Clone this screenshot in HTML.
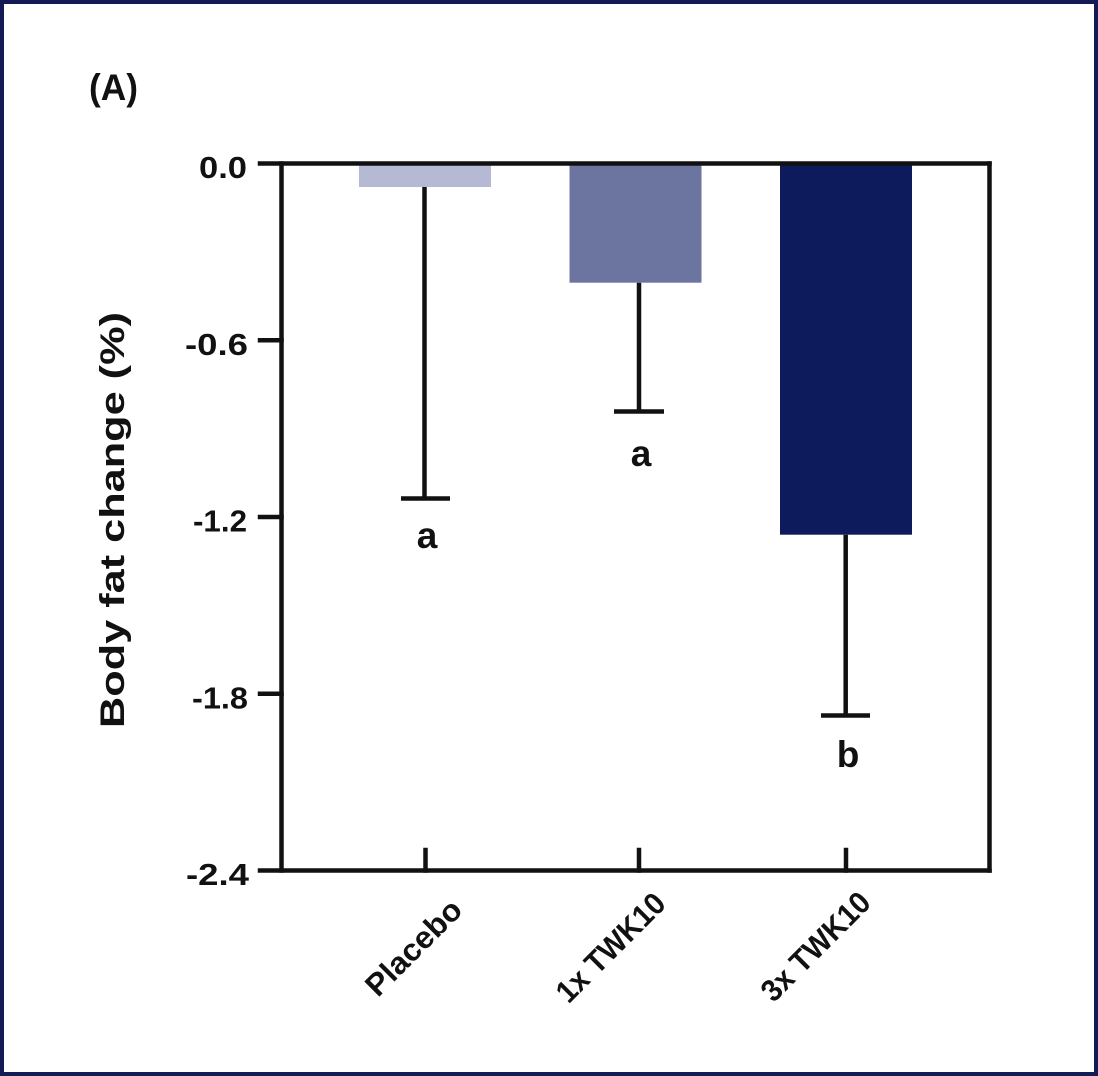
<!DOCTYPE html>
<html>
<head>
<meta charset="utf-8">
<style>
  html, body { margin: 0; padding: 0; background: #ffffff; }
  body { width: 1098px; height: 1076px; overflow: hidden; }
  svg { display: block; }
  text { font-family: "Liberation Sans", "DejaVu Sans", sans-serif; font-weight: bold; fill: #111111; }
</style>
</head>
<body>
<svg width="1098" height="1076" viewBox="0 0 1098 1076" xmlns="http://www.w3.org/2000/svg">
  <!-- background + border -->
  <rect x="0" y="0" width="1098" height="1076" fill="#ffffff"/>
  <rect x="2" y="2" width="1094" height="1072" fill="none" stroke="#131a54" stroke-width="4"/>

  <!-- panel label -->
  <text x="89" y="100" font-size="37" textLength="49" lengthAdjust="spacingAndGlyphs">(A)</text>

  <!-- bars -->
  <rect x="359" y="163" width="132" height="24" fill="#b5b9d4"/>
  <rect x="569.5" y="163" width="132" height="119.7" fill="#6c759f"/>
  <rect x="780" y="163" width="132" height="371.7" fill="#0d1b5d"/>

  <!-- error bars -->
  <g stroke="#111111" stroke-width="4.5" fill="none">
    <line x1="424.5" y1="187" x2="424.5" y2="498.5"/>
    <line x1="401" y1="498.5" x2="450" y2="498.5"/>
    <line x1="639" y1="282.7" x2="639" y2="411.5"/>
    <line x1="614" y1="411.5" x2="664" y2="411.5"/>
    <line x1="845.7" y1="534.7" x2="845.7" y2="715.5"/>
    <line x1="821" y1="715.5" x2="870" y2="715.5"/>
  </g>

  <!-- axes frame -->
  <g stroke="#111111" stroke-width="4.5" fill="none" stroke-linecap="square">
    <line x1="260" y1="163.5" x2="989.5" y2="163.5"/>
    <line x1="281.5" y1="163.5" x2="281.5" y2="870.5"/>
    <line x1="989.5" y1="163.5" x2="989.5" y2="870.5"/>
    <line x1="260" y1="870.5" x2="989.5" y2="870.5"/>
    <!-- y ticks -->
    <line x1="260" y1="340.25" x2="281.5" y2="340.25"/>
    <line x1="260" y1="517" x2="281.5" y2="517"/>
    <line x1="260" y1="693.75" x2="281.5" y2="693.75"/>
    <!-- x ticks (inward) -->
    <line x1="425.5" y1="850" x2="425.5" y2="870.5"/>
    <line x1="639" y1="850" x2="639" y2="870.5"/>
    <line x1="846" y1="850" x2="846" y2="870.5"/>
  </g>

  <!-- y tick labels -->
  <g font-size="31">
    <text x="199" y="178" textLength="48" lengthAdjust="spacingAndGlyphs">0.0</text>
    <text x="185" y="355" textLength="63" lengthAdjust="spacingAndGlyphs">-0.6</text>
    <text x="193" y="531.5" textLength="54" lengthAdjust="spacingAndGlyphs">-1.2</text>
    <text x="192" y="708.5" textLength="56" lengthAdjust="spacingAndGlyphs">-1.8</text>
    <text x="186" y="885" textLength="63" lengthAdjust="spacingAndGlyphs">-2.4</text>
  </g>

  <!-- y axis title -->
  <text transform="translate(124,520) rotate(-90)" text-anchor="middle" font-size="34" textLength="416" lengthAdjust="spacingAndGlyphs">Body fat change (%)</text>

  <!-- significance letters -->
  <g font-size="37" text-anchor="middle">
    <text x="427" y="548">a</text>
    <text x="641" y="466">a</text>
    <text x="848" y="767">b</text>
  </g>

  <!-- x tick labels rotated -->
  <g font-size="31" text-anchor="middle">
    <text transform="translate(421,955) rotate(-45)" textLength="122" lengthAdjust="spacingAndGlyphs">Placebo</text>
    <text transform="translate(618,955) rotate(-45)" textLength="140" lengthAdjust="spacingAndGlyphs">1x TWK10</text>
    <text transform="translate(823,954) rotate(-45)" textLength="140" lengthAdjust="spacingAndGlyphs">3x TWK10</text>
  </g>
</svg>
</body>
</html>
